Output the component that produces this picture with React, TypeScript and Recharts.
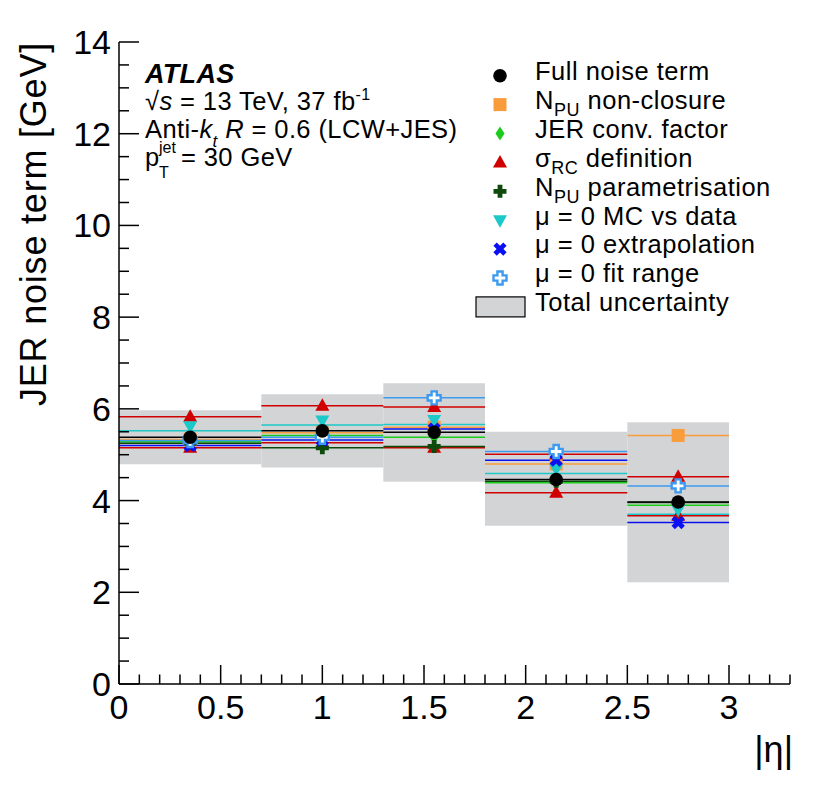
import React from 'react';
import { ComposedChart, Scatter, XAxis, YAxis, ErrorBar, ReferenceArea, Legend } from 'recharts';

// |eta| bins
const binLow = [0, 0.7, 1.3, 1.8, 2.5];
const binHigh = [0.7, 1.3, 1.8, 2.5, 3.0];
const etaCentre = [0.35, 1.0, 1.55, 2.15, 2.75];

// noise term values [GeV] per bin
const fullNoise = [5.38, 5.52, 5.49, 4.46, 3.97];
const totalUp = [5.97, 6.32, 6.56, 5.5, 5.71];
const totalDown = [4.79, 4.72, 4.41, 3.45, 2.22];
const npuNonClosure = [5.33, 5.48, 5.6, 4.8, 5.42];
const jerConvFactor = [5.28, 5.42, 5.38, 4.39, 3.9];
const sigmaRcUp = [5.83, 6.07, 6.04, 5.01, 4.52];
const sigmaRcDown = [5.15, 5.26, 5.15, 4.17, 3.67];
const npuParam = [5.25, 5.15, 5.18, 4.42, 3.96];
const mu0McVsData = [5.52, 5.65, 5.66, 4.59, 3.7];
const mu0Extrap = [5.2, 5.32, 5.56, 4.88, 3.52];
const mu0FitRange = [5.31, 5.38, 6.24, 5.07, 4.32];

const xTicks = [0, 0.1, 0.2, 0.3, 0.4, 0.5, 0.6, 0.7, 0.8, 0.9, 1, 1.1, 1.2, 1.3, 1.4, 1.5, 1.6, 1.7,
  1.8, 1.9, 2, 2.1, 2.2, 2.3, 2.4, 2.5, 2.6, 2.7, 2.8, 2.9, 3, 3.1, 3.2, 3.3];
const yTicks = [0, 0.5, 1, 1.5, 2, 2.5, 3, 3.5, 4, 4.5, 5, 5.5, 6, 6.5, 7, 7.5, 8, 8.5, 9, 9.5,
  10, 10.5, 11, 11.5, 12, 12.5, 13, 13.5, 14];

const W = 814;
const H = 774;
const FONT = '"Liberation Sans", Arial, Helvetica, sans-serif';

const ORANGE = '#f99d3c';
const GREEN = '#1ccc1c';
const RED = '#d00000';
const DKGREEN = '#0b4a0b';
const CYAN = '#1cc8c8';
const BLUE = '#0a10f0';
const LTBLUE = '#3d9bef';
const BAND = '#d3d4d6';

// drawing order follows the legend, full noise term on top
const series = [
  { id: 'npuNonClosure', values: npuNonClosure, color: ORANGE, shape: 'square' },
  { id: 'jerConv', values: jerConvFactor, color: GREEN, shape: 'diamond' },
  { id: 'sigmaRcUp', values: sigmaRcUp, color: RED, shape: 'triUp' },
  { id: 'sigmaRcDown', values: sigmaRcDown, color: RED, shape: 'triUp' },
  { id: 'npuParam', values: npuParam, color: DKGREEN, shape: 'cross' },
  { id: 'mu0McVsData', values: mu0McVsData, color: CYAN, shape: 'triDown' },
  { id: 'mu0Extrap', values: mu0Extrap, color: BLUE, shape: 'xmark' },
  { id: 'mu0FitRange', values: mu0FitRange, color: LTBLUE, shape: 'openCross' },
  { id: 'full', values: fullNoise, color: '#000000', shape: 'circle' },
];

const legendRows = [
  { shape: 'circle', color: '#000000', parts: [['Full noise term', '']] },
  { shape: 'square', color: ORANGE, parts: [['N', ''], ['PU', 'sub'], [' non-closure', '']] },
  { shape: 'diamond', color: GREEN, parts: [['JER conv. factor', '']] },
  { shape: 'triUp', color: RED, parts: [['σ', ''], ['RC', 'sub'], [' definition', '']] },
  { shape: 'cross', color: DKGREEN, parts: [['N', ''], ['PU', 'sub'], [' parametrisation', '']] },
  { shape: 'triDown', color: CYAN, parts: [['μ = 0 MC vs data', '']] },
  { shape: 'xmark', color: BLUE, parts: [['μ = 0 extrapolation', '']] },
  { shape: 'openCross', color: LTBLUE, parts: [['μ = 0 fit range', '']] },
  { shape: 'box', color: BAND, parts: [['Total uncertainty', '']] },
];

const crossPoints = (cx: number, cy: number, a: number, t: number) =>
  [
    [cx - t, cy - a], [cx + t, cy - a], [cx + t, cy - t], [cx + a, cy - t], [cx + a, cy + t], [cx + t, cy + t],
    [cx + t, cy + a], [cx - t, cy + a], [cx - t, cy + t], [cx - a, cy + t], [cx - a, cy - t], [cx - t, cy - t],
  ].map((p) => p.join(',')).join(' ');

function marker(shape: string, cx: number, cy: number, color: string) {
  switch (shape) {
    case 'circle':
      return <circle cx={cx} cy={cy} r={6.8} fill={color} />;
    case 'square':
      return <rect x={cx - 6.5} y={cy - 6.5} width={13} height={13} fill={color} />;
    case 'diamond':
      return <polygon points={`${cx},${cy - 7} ${cx + 4.5},${cy} ${cx},${cy + 7} ${cx - 4.5},${cy}`} fill={color} />;
    case 'triUp':
      return <polygon points={`${cx},${cy - 7.5} ${cx + 7},${cy + 5} ${cx - 7},${cy + 5}`} fill={color} />;
    case 'triDown':
      return <polygon points={`${cx - 7},${cy - 5} ${cx + 7},${cy - 5} ${cx},${cy + 7.5}`} fill={color} />;
    case 'cross':
      return <polygon points={crossPoints(cx, cy, 6.5, 2.4)} fill={color} />;
    case 'xmark':
      return <polygon points={crossPoints(cx, cy, 7, 2.4)} fill={color} transform={`rotate(45 ${cx} ${cy})`} />;
    case 'openCross':
      return <polygon points={crossPoints(cx, cy, 6.5, 2.6)} fill="#ffffff" stroke={color} strokeWidth={2.4} />;
    default:
      return null;
  }
}

const isMajor = (v: number, step: number) => Math.abs(v / step - Math.round(v / step)) < 1e-6;
const fmt = (v: number) => String(Math.round(v * 10) / 10);

function BottomTick(props: any) {
  const { x, y, payload } = props;
  const major = isMajor(payload.value, 0.5);
  return (
    <g>
      <line x1={x} x2={x} y1={y} y2={y - (major ? 19 : 9.5)} stroke="#000" strokeWidth={1.5} />
      {major && (
        <text x={x} y={y + 35} textAnchor="middle" fontSize={34} fontFamily={FONT} fill="#000">
          {fmt(payload.value)}
        </text>
      )}
    </g>
  );
}

function TopTick(props: any) {
  const { x, y, payload } = props;
  const major = isMajor(payload.value, 0.5);
  return <line x1={x} x2={x} y1={y} y2={y + (major ? 19 : 9.5)} stroke="#000" strokeWidth={1.5} />;
}

function LeftTick(props: any) {
  const { x, y, payload } = props;
  const major = isMajor(payload.value, 2);
  return (
    <g>
      <line x1={x} x2={x + (major ? 20 : 10)} y1={y} y2={y} stroke="#000" strokeWidth={1.5} />
      {major && (
        <text x={x - 8} y={y + 12} textAnchor="end" fontSize={34} fontFamily={FONT} fill="#000">
          {fmt(payload.value)}
        </text>
      )}
    </g>
  );
}

function RightTick(props: any) {
  const { x, y, payload } = props;
  const major = isMajor(payload.value, 2);
  return <line x1={x} x2={x - (major ? 20 : 10)} y1={y} y2={y} stroke="#000" strokeWidth={1.5} />;
}

function LegendBox() {
  return (
    <svg width={350} height={270} fontFamily={FONT}>
      {legendRows.map((row, i) => {
        const my = 17.7 + 28.9 * i;
        const ty = 22 + 28.9 * i;
        return (
          <g key={i}>
            {row.shape === 'box' ? (
              <rect x={8} y={my - 10} width={49} height={20} fill={row.color} stroke="#000" strokeWidth={1.2} />
            ) : (
              marker(row.shape, 32, my, row.color)
            )}
            <text x={67} y={ty} fontSize={25.5} letterSpacing={0.5} fill="#000">
              {row.parts.map(([t, kind], k) => {
                const prevSub = k > 0 && row.parts[k - 1][1] === 'sub';
                if (kind === 'sub') {
                  return (
                    <tspan key={k} fontSize={18} dy={7}>
                      {t}
                    </tspan>
                  );
                }
                return (
                  <tspan key={k} dy={prevSub ? -7 : 0}>
                    {t}
                  </tspan>
                );
              })}
            </text>
          </g>
        );
      })}
    </svg>
  );
}

export default function App() {
  const bins = binLow.map((lo, i) => ({ lo, hi: binHigh[i], up: totalUp[i], down: totalDown[i] }));
  const axisStyle = { stroke: '#000', strokeWidth: 1.5 };

  return (
    <div style={{ position: 'relative', width: W, height: H, fontFamily: FONT }}>
      <ComposedChart width={W} height={H} margin={{ top: 34, right: 32, bottom: 0, left: 0 }}>
        <XAxis
          xAxisId={0}
          type="number"
          dataKey="x"
          domain={[0, 3.3]}
          ticks={xTicks}
          interval={0}
          tickSize={0}
          tickMargin={0}
          tickLine={false}
          tick={BottomTick}
          height={98}
          axisLine={axisStyle}
          allowDataOverflow
        />
        <XAxis
          xAxisId="top"
          orientation="top"
          type="number"
          dataKey="x"
          domain={[0, 3.3]}
          ticks={xTicks}
          interval={0}
          tickSize={0}
          tickMargin={0}
          tickLine={false}
          tick={TopTick}
          height={0}
          axisLine={axisStyle}
          allowDataOverflow
        />
        <YAxis
          yAxisId={0}
          type="number"
          dataKey="y"
          domain={[0, 14]}
          ticks={yTicks}
          interval={0}
          tickSize={0}
          tickMargin={0}
          tickLine={false}
          tick={LeftTick}
          width={111}
          axisLine={axisStyle}
          allowDataOverflow
        />
        <YAxis
          yAxisId="right"
          orientation="right"
          type="number"
          dataKey="y"
          domain={[0, 14]}
          ticks={yTicks}
          interval={0}
          tickSize={0}
          tickMargin={0}
          tickLine={false}
          tick={RightTick}
          width={0}
          axisLine={axisStyle}
          allowDataOverflow
        />
        {bins.map((b, i) => (
          <ReferenceArea
            key={`band-${i}`}
            xAxisId={0}
            yAxisId={0}
            x1={b.lo}
            x2={b.hi}
            y1={b.down}
            y2={b.up}
            fill={BAND}
            fillOpacity={1}
            stroke="none"
          />
        ))}
        {series.map((s) => {
          const data = etaCentre.map((x, i) => ({ x, y: s.values[i], ex: (binHigh[i] - binLow[i]) / 2 }));
          // ROOT draws the inverted triangle marker slightly above its point
          const lift = s.shape === 'triDown' ? -4.5 : 0;
          return (
            <Scatter
              key={s.id}
              xAxisId={0}
              yAxisId={0}
              data={data}
              isAnimationActive={false}
              shape={(p: any) => marker(s.shape, p.cx, p.cy + lift, s.color)}
            >
              <ErrorBar direction="x" dataKey="ex" width={0} stroke={s.color} strokeWidth={1.5} isAnimationActive={false} />
            </Scatter>
          );
        })}
        <Legend
          layout="vertical"
          align="center"
          verticalAlign="middle"
          content={() => <LegendBox />}
          wrapperStyle={{ position: 'absolute', left: 460, top: 50, width: 350, height: 270 }}
        />
      </ComposedChart>

      <svg
        width={W}
        height={H}
        style={{ position: 'absolute', left: 0, top: 0, pointerEvents: 'none' }}
        fontFamily={FONT}
      >
        <text x={137} y={75.3} fontSize={27} fontWeight="bold" fontStyle="italic" letterSpacing={0.3}>
          ATLAS
        </text>
        <text x={137} y={102} fontSize={25.5} letterSpacing={0.4}>
          √<tspan fontStyle="italic">s</tspan> = 13 TeV, 37 fb
          <tspan fontSize={16} dy={-10}>-1</tspan>
        </text>
        <text x={137} y={130} fontSize={25.5} letterSpacing={0.4}>
          Anti-<tspan fontStyle="italic">k</tspan>
          <tspan fontStyle="italic" fontSize={17} dy={9}>t</tspan>
          <tspan dy={-9}> </tspan>
          <tspan fontStyle="italic">R</tspan> = 0.6 (LCW+JES)
        </text>
        <text x={137} y={158} fontSize={25.5}>p</text>
        <text x={151} y={145} fontSize={16}>jet</text>
        <text x={151} y={170} fontSize={16}>T</text>
        <text x={173} y={158} fontSize={25.5} letterSpacing={0.4}>= 30 GeV</text>

        <text transform="rotate(-90)" x={-216} y={38} textAnchor="middle" fontSize={36} letterSpacing={0.8}>
          JER noise term [GeV]
        </text>
        <text x={785} y={754} textAnchor="end" fontSize={36}>
          |η|
        </text>
      </svg>
    </div>
  );
}
